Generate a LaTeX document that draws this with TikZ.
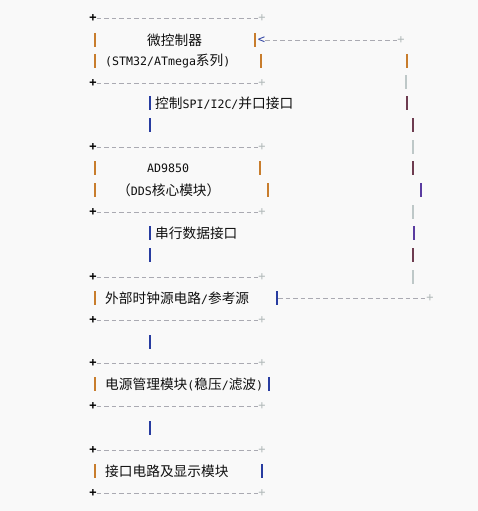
\documentclass[tikz,border=0pt]{standalone}
\usepackage{fontspec}
\newfontfamily\cjk{Noto Sans CJK SC}
\newfontfamily\mono{DejaVu Sans Mono}
\definecolor{bg}{RGB}{249,249,249}
\definecolor{dl}{RGB}{170,170,178}
\definecolor{lbar}{RGB}{200,125,45}
\definecolor{ibar}{RGB}{40,60,160}
\definecolor{maroon}{RGB}{110,60,80}
\definecolor{lgray}{RGB}{190,200,200}
\definecolor{purp}{RGB}{90,60,160}
\definecolor{txt}{RGB}{15,15,15}
\newcommand{\cj}[1]{{\cjk\fontsize{13.7}{14}\selectfont #1}}
\newcommand{\mn}[1]{{\mono\fontsize{11.6}{14}\selectfont #1}}
\tikzset{
  plusL/.style={inner sep=0, text=black, font=\mono\bfseries\fontsize{12}{12}\selectfont},
  plusR/.style={inner sep=0, text=lgray!80!gray, font=\mono\fontsize{12}{12}\selectfont},
  dline/.style={draw=dl, line width=0.9pt, dash pattern=on 4.5pt off 3pt},
  lbl/.style={anchor=west, inner sep=0, text=txt},
  vbar/.style={line width=1.4pt},
}
\begin{document}
\begin{tikzpicture}[x=1pt,y=-1pt]
\fill[bg] (0,0) rectangle (478,511);
\useasboundingbox (0,0) rectangle (478,511);
% box borders
\foreach \y/\n in {18/a,83/b,147/c,212/d,277/e,320/f,363/g,406/h,450/i,493/j}{
  \node[plusL] (L\n) at (93,\y) {+};
  \node[plusR] (R\n) at (262,\y) {+};
  \draw[dline] (L\n) -- (R\n);
}
% left bars of boxes
\foreach \y in {40,61,168,190,298,384,471}{
  \draw[vbar,lbar] (95,\y-7) -- (95,\y+7);
}
% right bars of boxes
\foreach \x/\y/\c in {255/40/lbar,261/61/lbar,260/168/lbar,268/190/lbar,277/298/ibar,269/384/ibar,262/471/ibar}{
  \draw[vbar,\c] (\x,\y-7) -- (\x,\y+7);
}
% inner connector bars
\foreach \y in {103,125,233,255,342,428}{
  \draw[vbar,ibar] (150,\y-7) -- (150,\y+7);
}
% texts
\node[lbl] (t1) at (147,40) {\cj{微控制器}};
\node[lbl] (t2) at (105,61) {\mn{(STM32/ATmega}\cj{系列}\mn{)}};
\node[lbl] (t3) at (155,103) {\cj{控制}\mn{SPI/I2C/}\cj{并口接口}};
\node[lbl] (t4) at (147,168) {\mn{AD9850}};
\node[lbl] (t5) at (117,190) {\cj{（}\mn{DDS}\cj{核心模块）}};
\node[lbl] (t6) at (155,233) {\cj{串行数据接口}};
\node[lbl] (t7) at (105,298) {\cj{外部时钟源电路}\mn{/}\cj{参考源}};
\node[lbl] (t8) at (105,384) {\cj{电源管理模块}\mn{(}\cj{稳压}\mn{/}\cj{滤波}\mn{)}};
\node[lbl] (t9) at (105,471) {\cj{接口电路及显示模块}};
% feedback loop on the right
\node[inner sep=0, text=ibar, font=\mono\fontsize{12}{12}\selectfont] (arr) at (261.5,40) {<};
\node[plusR] (rp1) at (401,40) {+};
\draw[dline] (arr) -- (rp1);
\coordinate (r2a) at (278,298);
\node[plusR] (rp2) at (430,298) {+};
\draw[dline] (r2a) -- (rp2);
\foreach \x/\y/\c in {407/61/lbar,406/82/lgray,407/103/maroon,413/125/maroon,413/147/lgray,413/168/maroon,421/190/purp,413/212/lgray,414/233/purp,413/255/maroon,413/277/lgray}{
  \draw[vbar,\c] (\x,\y-7) -- (\x,\y+7);
}
\end{tikzpicture}
\end{document}
